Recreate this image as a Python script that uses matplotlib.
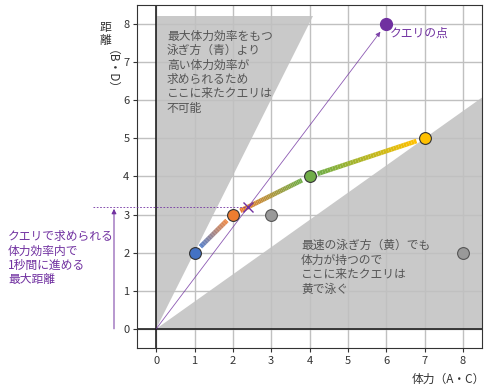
import numpy as np
import matplotlib
matplotlib.use("Agg")
import matplotlib.pyplot as plt
from matplotlib.collections import LineCollection
from matplotlib.colors import to_rgb

plt.rcParams['font.family'] = ['Noto Sans CJK JP', 'DejaVu Sans']

# swim styles: stamina (A, C) vs distance (B, D)
style_x = [1, 2, 4, 7]
style_y = [2, 3, 4, 5]
style_colors = ['#4472c4', '#ed7d31', '#70ad47', '#ffc000']

# dominated styles
gray_x = [3, 8]
gray_y = [3, 2]

# query
query_x, query_y = 6, 8
cross_x, cross_y = 2.4, 3.2

ticks = list(range(0, 9))
purple = '#7030a0'
textgray = '#555555'

fig = plt.figure(figsize=(5, 3.87), dpi=100)
ax = fig.add_axes([0.274, 0.101, 0.69, 0.886])
ax.set_xlim(-0.5, 8.5)
ax.set_ylim(-0.5, 8.5)
ax.set_xticks(ticks)
ax.set_yticks(ticks)
ax.grid(True, color='#c0c0c0', linewidth=1.0, zorder=1)
ax.set_axisbelow(True)
ax.tick_params(labelsize=8, length=3, colors='#333333', pad=2.5)
for s in ax.spines.values():
    s.set_color('#333333')

# gray regions
top_y = 8.2
ax.fill([0, 0, top_y / 2], [0, top_y, top_y], color='#c9c9c9', zorder=0.5, lw=0)
slope = style_y[-1] / style_x[-1]
ax.fill([0, 8.5, 8.5], [0, 8.5 * slope, 0], color='#c9c9c9', zorder=0.5, lw=0)

ax.axhline(0, color='#111111', lw=1.1, zorder=2)
ax.axvline(0, color='#111111', lw=1.1, zorder=2)

# gradient segments between styles
gap = 0.22
for i in range(len(style_x) - 1):
    x0, y0, x1, y1 = style_x[i], style_y[i], style_x[i + 1], style_y[i + 1]
    L = np.hypot(x1 - x0, y1 - y0)
    t = np.linspace(gap / L, 1 - gap / L, 40)
    xs = x0 + (x1 - x0) * t
    ys = y0 + (y1 - y0) * t
    pts = np.array([xs, ys]).T.reshape(-1, 1, 2)
    segs = np.concatenate([pts[:-1], pts[1:]], axis=1)
    c0 = np.array(to_rgb(style_colors[i]))
    c1 = np.array(to_rgb(style_colors[i + 1]))
    tm = np.linspace(0, 1, len(segs))[:, None]
    cols = c0 * (1 - tm) + c1 * tm
    ax.add_collection(LineCollection(segs, colors=cols, linewidths=3.4, zorder=3,
                                     capstyle='butt'))

# query arrow
ax.annotate('', xy=(query_x * 0.975, query_y * 0.975), xytext=(0, 0),
            arrowprops=dict(arrowstyle='-|>', color=purple, lw=0.6,
                            mutation_scale=7, shrinkA=0, shrinkB=0, alpha=0.8),
            zorder=3)
ax.plot([cross_x], [cross_y], marker='x', color=purple, ms=7, mew=1.0, zorder=5)

# max distance indicator
ax.plot([-1.65, cross_x], [cross_y, cross_y], ls=(0, (2, 2)), color=purple,
        lw=0.6, clip_on=False, zorder=3)
ax.annotate('', xy=(-1.1, cross_y - 0.05), xytext=(-1.1, 0),
            xycoords='data', annotation_clip=False,
            arrowprops=dict(arrowstyle='-|>', color=purple, lw=0.7,
                            mutation_scale=7, shrinkA=0, shrinkB=0))

# markers
for x, y, c in zip(style_x, style_y, style_colors):
    ax.plot(x, y, 'o', ms=8.5, color=c, mec='#333333', mew=0.8, zorder=6)
ax.plot(gray_x, gray_y, 'o', ms=8.5, color='#999999', mec='#555555', mew=0.8,
        ls='none', zorder=6)
ax.plot(query_x, query_y, 'o', ms=8.5, color=purple, mec=purple, zorder=6)

# texts
ax.text(query_x + 0.1, query_y - 0.08, 'クエリの点', color=purple, fontsize=8.5,
        va='top', ha='left', zorder=7)
ax.text(0.28, 7.85, '最大体力効率をもつ\n泳ぎ方（青）より\n高い体力効率が\n求められるため\nここに来たクエリは\n不可能',
        color=textgray, fontsize=8.5, va='top', ha='left', linespacing=1.14, zorder=7)
ax.text(3.78, 2.35, '最速の泳ぎ方（黄）でも\n体力が持つので\nここに来たクエリは\n黄で泳ぐ',
        color=textgray, fontsize=8.5, va='top', ha='left', linespacing=1.14, zorder=7)
fig.text(0.016, 0.333, 'クエリで求められる\n体力効率内で\n1秒間に進める\n最大距離',
         color=purple, fontsize=8.5, va='center', ha='left', linespacing=1.14)

# axis labels (vertical japanese style)
fig.text(0.21, 0.945, '距\n離', fontsize=8.5, color='#333333', ha='center', va='top',
         linespacing=1.0)
fig.text(0.21, 0.87, '（B・D）', fontsize=8.5, color='#333333', ha='center', va='top',
         rotation=-90)
fig.text(0.97, 0.004, '体力（A・C）', fontsize=8.5, color='#333333', ha='right', va='bottom')

fig.savefig('out.png', dpi=100)
